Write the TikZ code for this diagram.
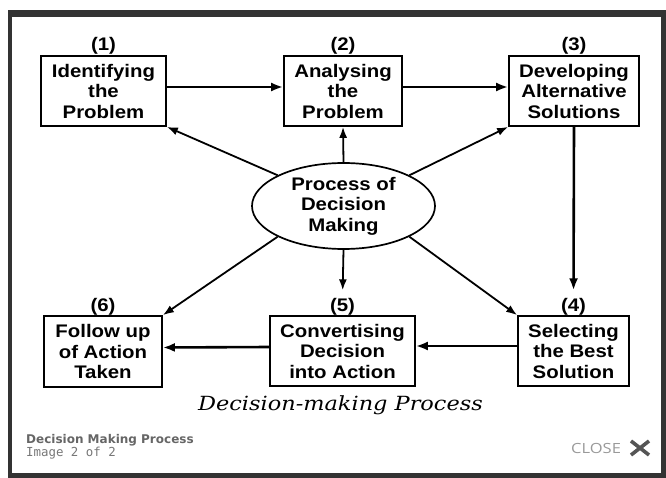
\documentclass[tikz,border=0pt]{standalone}
\usepackage{fontspec}
\setmainfont{Liberation Sans}
\newfontfamily\boxfont{Liberation Sans}[FakeStretch=1.12]
\newfontfamily\capfont{DejaVu Serif}[FakeStretch=1.15]
\newfontfamily\uifont{DejaVu Sans}
\newfontfamily\uimono{DejaVu Sans Mono}
\newfontfamily\closefont{Open Sans}[FakeStretch=1.18]
\usetikzlibrary{arrows.meta,shapes.geometric}
\definecolor{framegray}{HTML}{333333}
\definecolor{uititle}{HTML}{666666}
\definecolor{uisub}{HTML}{777777}
\definecolor{uiclose}{HTML}{999999}
\definecolor{uix}{HTML}{555555}
\begin{document}
\begin{tikzpicture}[x=1pt,y=-1pt,
  stepbox/.style={draw, line width=1.7pt, inner sep=0pt, align=center,
    font=\boxfont\bfseries\fontsize{18.2}{20.5}\selectfont},
  numlabel/.style={inner sep=0pt, font=\boxfont\bfseries\fontsize{18.2}{20.5}\selectfont},
  flow/.style={line width=2.6pt, -{Latex[length=12pt,width=9pt]}},
  spoke/.style={line width=1.8pt, -{Latex[length=11pt,width=8pt]}},
]
\useasboundingbox (0,0) rectangle (666,478);
\fill[white] (0,0) rectangle (666,478);
\fill[framegray] (8,10) rectangle (666,478);
\fill[white] (12,17) rectangle (661,473);

% boxes
\node[stepbox, minimum width=125pt, minimum height=70pt] (b1) at (103.5,91) {Identifying\\the\\Problem};
\node[stepbox, minimum width=118pt, minimum height=70pt] (b2) at (343,91) {Analysing\\the\\Problem};
\node[stepbox, minimum width=130pt, minimum height=70pt] (b3) at (574,91) {Developing\\Alternative\\Solutions};
\node[stepbox, minimum width=111pt, minimum height=70pt] (b4) at (573.5,351) {Selecting\\the Best\\Solution};
\node[stepbox, minimum width=145pt, minimum height=70pt] (b5) at (342.5,351) {Convertising\\Decision\\into Action};
\node[stepbox, minimum width=118pt, minimum height=71pt] (b6) at (103,351.5) {Follow up\\of Action\\Taken};

% number labels
\node[numlabel] (l1) at (103.5,46) {(1)};
\node[numlabel] (l2) at (343,46) {(2)};
\node[numlabel] (l3) at (574,46) {(3)};
\node[numlabel] (l4) at (573.5,307) {(4)};
\node[numlabel] (l5) at (342.5,307) {(5)};
\node[numlabel] (l6) at (103,307) {(6)};

% central ellipse
\node[ellipse, draw, line width=1.7pt, inner sep=0pt, minimum width=183pt, minimum height=86pt,
  align=center, font=\boxfont\bfseries\fontsize{18.2}{20.5}\selectfont] (ell) at (343.5,206)
  {Process of\\Decision\\Making};

% main flow
\draw[flow] ([yshift=4pt]b1.east) -- ([yshift=4pt]b2.west);
\draw[flow] ([yshift=4pt]b2.east) -- ([yshift=4pt]b3.west);
\draw[flow, shorten >=8pt] (b3.south) -- (l4.north);
\draw[flow] ([yshift=5pt]b4.west) -- ([yshift=5pt]b5.east);
\draw[flow] ([yshift=4pt]b5.west) -- ([yshift=4pt]b6.east);

% spokes from ellipse
\draw[spoke] (ell.155) -- (b1.south east);
\draw[spoke] (ell.north) -- (b2.south);
\draw[spoke] (ell.25) -- (b3.south west);
\draw[spoke] (ell.335) -- (b4.north west);
\draw[spoke, shorten >=8pt] (ell.south) -- (l5.north);
\draw[spoke] (ell.205) -- (b6.north east);

% caption
\node[font=\capfont\itshape\fontsize{19.5}{22}\selectfont] (cap) at (340.5,405) {Decision-making Process};

% viewer UI
\node[anchor=west, inner sep=0pt, text=uititle, font=\uifont\bfseries\fontsize{12}{14}\selectfont] (t1) at (26,440) {Decision Making Process};
\node[anchor=west, inner sep=0pt, text=uisub, font=\uimono\fontsize{12.4}{14}\selectfont] (t2) at (26,453) {Image 2 of 2};
\node[anchor=west, inner sep=0pt, text=uiclose, font=\closefont\fontsize{14}{16}\selectfont] (close) at (571,448) {CLOSE};
\draw[uix, line width=3.6pt] (631,441) -- (649,455);
\draw[uix, line width=3.6pt] (631,455) -- (649,441);
\end{tikzpicture}
\end{document}
